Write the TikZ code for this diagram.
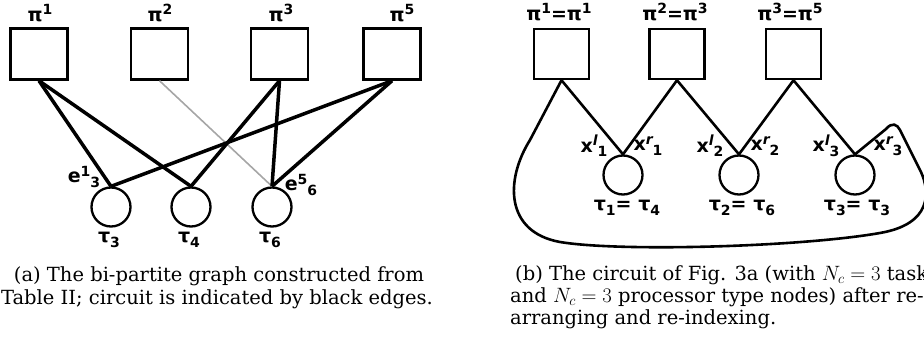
\documentclass[tikz,border=0pt]{standalone}
\usepackage{amsmath}
\usepackage{fontspec}
\setmainfont{DejaVu Serif}
\newfontfamily\lblfont{DejaVu Sans}
\usepackage{tikz}
\usetikzlibrary{positioning}

\newcommand{\lsup}[1]{\raisebox{0.6ex}{\fontsize{14}{14}\selectfont #1}}
\newcommand{\lsub}[1]{\raisebox{-0.45ex}{\fontsize{14}{14}\selectfont #1}}

\begin{document}
\begin{tikzpicture}[x=1pt, y=-1pt,
  procbox/.style={rectangle, draw, line width=2.5pt, minimum width=57pt, minimum height=51pt, inner sep=0pt},
  tasknode/.style={circle, draw, line width=2.3pt, minimum size=39pt, inner sep=0pt},
  lbl/.style={font=\lblfont\bfseries\fontsize{19}{19}\selectfont, inner sep=0pt},
  captext/.style={font=\fontsize{19.5}{22}\selectfont, inner sep=0pt},
  circuit/.style={line width=3.5pt},
  other/.style={line width=1.6pt, gray!70},
  loopedge/.style={line width=2.6pt}]
\useasboundingbox (0,0) rectangle (924,339);
\clip (0,0) rectangle (924,339);

% (a) bi-partite graph
\node[procbox] (p1) at (39,54) {};
\node[procbox] (p2) at (159.5,54) {};
\node[procbox] (p3) at (279.5,54) {};
\node[procbox] (p5) at (392,54) {};
\node[tasknode] (t3) at (111,207) {};
\node[tasknode] (t4) at (191,207) {};
\node[tasknode] (t6) at (272,207) {};

\node[lbl] (lp1) at (40,13) {π\lsup{1}};
\node[lbl] (lp2) at (160,13) {π\lsup{2}};
\node[lbl] (lp3) at (281,13) {π\lsup{3}};
\node[lbl] (lp5) at (402,13) {π\lsup{5}};
\node[lbl] (lt3) at (109,240) {τ\lsub{3}};
\node[lbl] (lt4) at (189,240) {τ\lsub{4}};
\node[lbl] (lt6) at (270,240) {τ\lsub{6}};
\node[lbl] (e13) at (84,177) {e\lsup{1}\lsub{3}};
\node[lbl] (e56) at (301,185) {e\lsup{5}\lsub{6}};

\draw[other] (p2.south) -- (t6.north);
\draw[circuit] (p1.south) -- (t3.north);
\draw[circuit] (p1.south) -- (t4.north);
\draw[circuit] (p3.south) -- (t4.north);
\draw[circuit] (p3.south) -- (t6.north);
\draw[circuit] (p5.south) -- (t3.north);
\draw[circuit] (p5.south) -- (t6.north);

\node[captext, anchor=base] (capa1) at (219,282) {(a) The bi-partite graph constructed from};
\node[captext, anchor=base] (capa2) at (217,304) {Table II; circuit is indicated by black edges.};

% (b) circuit after re-indexing
\node[procbox, minimum width=55pt, minimum height=50pt] (q1) at (561.5,54) {};
\node[procbox, minimum width=55pt, minimum height=50pt] (q2) at (677,54) {};
\node[procbox, minimum width=55pt, minimum height=50pt] (q3) at (793.5,54) {};
\node[tasknode] (s1) at (623,175) {};
\node[tasknode] (s2) at (739,175) {};
\node[tasknode] (s3) at (855,175) {};

\node[lbl] (lq1) at (559,12) {π\lsup{1}=π\lsup{1}};
\node[lbl] (lq2) at (675,12) {π\lsup{2}=π\lsup{3}};
\node[lbl] (lq3) at (790,12) {π\lsup{3}=π\lsup{5}};
\node[lbl] (ls1) at (627,208) {τ\lsub{1}= τ\lsub{4}};
\node[lbl] (ls2) at (742,208) {τ\lsub{2}= τ\lsub{6}};
\node[lbl] (ls3) at (857,208) {τ\lsub{3}= τ\lsub{3}};
\node[lbl] (xl1) at (594,146) {x\lsup{\itshape l}\lsub{1}};
\node[lbl] (xr1) at (648,146) {x\lsup{\itshape r}\lsub{1}};
\node[lbl] (xl2) at (710,146) {x\lsup{\itshape l}\lsub{2}};
\node[lbl] (xr2) at (765,146) {x\lsup{\itshape r}\lsub{2}};
\node[lbl] (xl3) at (826,146) {x\lsup{\itshape l}\lsub{3}};
\node[lbl] (xr3) at (888,146) {x\lsup{\itshape r}\lsub{3}};

\draw[loopedge] (q1.south) -- (s1.north) -- (q2.south) -- (s2.north) -- (q3.south) -- (s3.north);
\draw[loopedge] (s3.north) -- (886,129) .. controls (892,122) and (897,124) .. (900,130)
  -- (921,172) .. controls (930,192) and (932,224) .. (880,233)
  .. controls (800,247) and (620,252) .. (560,242)
  .. controls (505,232) and (505,180) .. (530,140) -- (q1.south);

\node[captext, anchor=base west] (capb1) at (515,280) {(b) The circuit of Fig. 3a (with $N_c = 3$ tasks};
\node[captext, anchor=base west] (capb2) at (510,302) {and $N_c = 3$ processor type nodes) after re-};
\node[captext, anchor=base west] (capb3) at (510,324) {arranging and re-indexing.};
\end{tikzpicture}
\end{document}
